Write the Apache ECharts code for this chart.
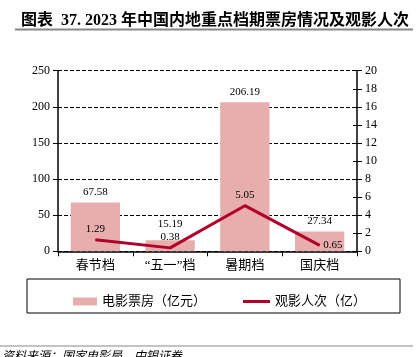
<!DOCTYPE html>
<html><head><meta charset="utf-8">
<script src="https://cdn.jsdelivr.net/npm/echarts@6/dist/echarts.min.js"></script>
<style>html,body{margin:0;padding:0;background:#fff}#c{width:417px;height:357px}</style>
</head><body><div id="c"></div>
<script>
const categories = ['春节档', '“五一”档', '暑期档', '国庆档'];
const boxOffice = [67.58, 15.19, 206.19, 27.34];
const admissions = [1.29, 0.38, 5.05, 0.65];
const leftTicks = [0, 50, 100, 150, 200, 250];
const rightTicks = [0, 2, 4, 6, 8, 10, 12, 14, 16, 18, 20];
const barName = '电影票房（亿元）';
const lineName = '观影人次（亿）';

const SERIF = '"Liberation Serif", "Times New Roman", "Noto Sans CJK SC", serif';
const chart = echarts.init(document.getElementById('c'), null, {renderer: 'canvas'});
const yCommon = {
  axisLine: {show: true, lineStyle: {color: '#000', width: 1.5}},
  axisLabel: {color: '#000', fontFamily: SERIF, fontSize: 12}
};
chart.setOption({
  animation: false,
  backgroundColor: '#fff',
  title: {
    text: '图表  37. 2023 年中国内地重点档期票房情况及观影人次',
    left: 16, top: 8,
    textStyle: {fontFamily: SERIF, fontSize: 16, fontWeight: 'bold', color: '#000'}
  },
  grid: {left: 58, right: 60, top: 70.7, bottom: 105.7},
  legend: [
    {data: [{name: barName, icon: 'rect'}], left: 68, top: 290, itemWidth: 24, itemHeight: 8, itemGap: 6,
     textStyle: {fontFamily: SERIF, fontSize: 13, color: '#000'}},
    {data: [{name: lineName, icon: 'rect'}], left: 238, top: 290, itemWidth: 27, itemHeight: 3, itemGap: 4,
     textStyle: {fontFamily: SERIF, fontSize: 13, color: '#000'}}
  ],
  xAxis: {
    type: 'category', data: categories,
    axisLine: {lineStyle: {color: '#000', width: 1.5}},
    axisTick: {show: true, length: 5, lineStyle: {color: '#000'}},
    axisLabel: {color: '#000', fontFamily: SERIF, fontSize: 13, margin: 8}
  },
  yAxis: [
    Object.assign({type: 'value', min: leftTicks[0], max: leftTicks[leftTicks.length - 1], interval: 50, position: 'left',
      axisTick: {show: true, length: 5, lineStyle: {color: '#000'}},
      splitLine: {show: true, lineStyle: {color: '#000', type: [4, 2], width: 1}}}, yCommon),
    Object.assign({type: 'value', min: rightTicks[0], max: rightTicks[rightTicks.length - 1], interval: 2, position: 'right',
      axisTick: {show: true, length: 5, lineStyle: {color: '#000'}},
      splitLine: {show: false}}, yCommon),
    {type: 'value', min: rightTicks[0], max: rightTicks[rightTicks.length - 1], interval: 2, position: 'right',
      axisLine: {show: false}, axisLabel: {show: false}, splitLine: {show: false},
      axisTick: {show: true, inside: true, length: 4, lineStyle: {color: '#000'}}}
  ],
  series: [
    {
      name: barName, type: 'bar', yAxisIndex: 0, barWidth: '66%',
      itemStyle: {color: '#E8AEAE'},
      data: boxOffice.map((v, i) => i === 1 ? {value: v, label: {offset: [0, -6]}} : v),
      label: {show: true, position: 'top', distance: 5, color: '#000', fontFamily: SERIF, fontSize: 11,
        formatter: p => p.value.toFixed(2)}
    },
    {
      name: lineName, type: 'line', yAxisIndex: 1, symbol: 'circle', symbolSize: 1,
      lineStyle: {color: '#B2002C', width: 3}, itemStyle: {color: '#B2002C'},
      data: admissions.map((v, i) => i === 3 ? {value: v, label: {position: 'right', distance: 3}} : v),
      label: {show: true, position: 'top', distance: 5, color: '#000', fontFamily: SERIF, fontSize: 11,
        formatter: p => p.value.toFixed(2)}
    }
  ],
  graphic: [
    {type: 'line', shape: {x1: 15, y1: 29.5, x2: 413, y2: 29.5}, style: {stroke: '#888', lineWidth: 2}},
    {type: 'rect', shape: {x: 27, y: 279, width: 373, height: 34}, style: {fill: 'none', stroke: '#000', lineWidth: 1}},
    {type: 'line', shape: {x1: 0, y1: 346, x2: 413, y2: 346}, style: {stroke: '#888', lineWidth: 1}},
    {type: 'text', left: 2, top: 349, style: {text: '资料来源：国家电影局，中银证券', fill: '#000',
      font: 'italic 12px "Noto Sans CJK SC", serif'}}
  ]
});
</script></body></html>
